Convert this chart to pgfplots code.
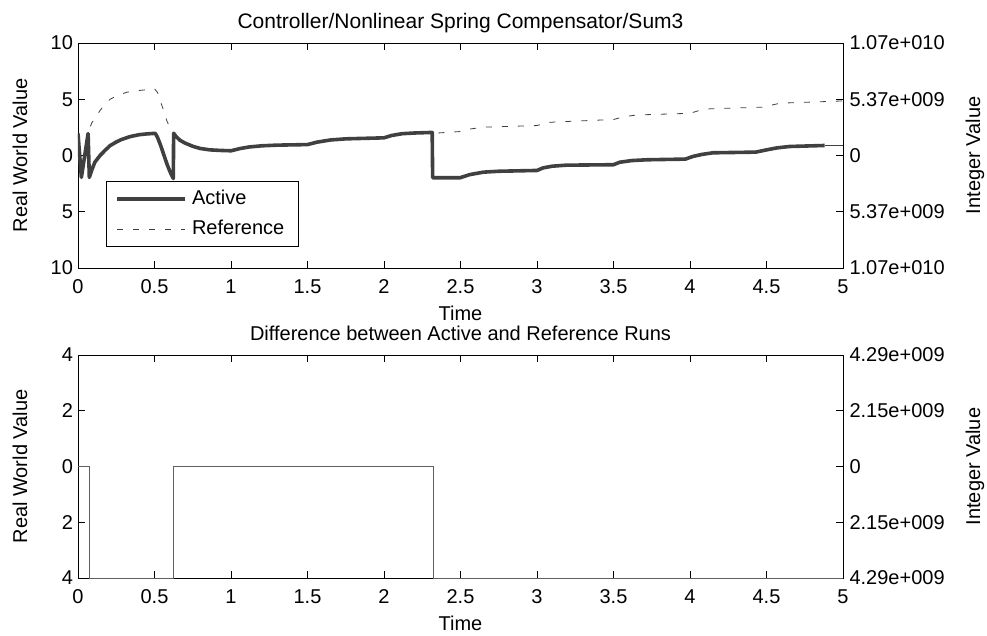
\documentclass[border=0pt]{standalone}
\usepackage{fontspec}
\setmainfont{Liberation Sans}
\usepackage{pgfplots}
\pgfplotsset{compat=1.18}

\definecolor{linegray}{HTML}{404040}
\definecolor{diffgray}{HTML}{606060}

\pgfplotsset{
  panel/.style={
    scale only axis, width=765pt,
    xmin=0, xmax=5,
    tick align=inside, major tick length=7pt,
    xtick pos=both, ytick pos=both,
    xticklabel pos=bottom, yticklabel pos=left,
    axis line style={line width=0.9pt, black},
    every tick/.style={black, line width=0.9pt},
    xtick={0,0.5,1,1.5,2,2.5,3,3.5,4,4.5,5},
    xticklabels={0,0.5,1,1.5,2,2.5,3,3.5,4,4.5,5},
    xticklabel style={anchor=base, yshift=-25.5pt},
    yticklabel style={xshift=-1.5pt},
    ylabel style={at={(axis description cs:-0.0758,0.5)}, anchor=center},
    xlabel style={at={(axis description cs:0.5,0)}, anchor=base, yshift=-52.5pt},
    title style={at={(axis description cs:0.5,1)}, anchor=base, yshift=8pt},
  },
  rightside/.style={
    scale only axis, width=765pt,
    xmin=0, xmax=5,
    axis x line=none, axis y line*=right,
    axis line style={draw=none},
    major tick length=0pt,
    yticklabel style={xshift=3pt},
    ylabel style={at={(axis description cs:1.1725,0.5)}, anchor=center},
  },
}

\begin{document}
\begin{tikzpicture}[font=\fontsize{20}{24}\selectfont]
\path[use as bounding box] (-78pt,-368pt) rectangle (909pt,268pt);

% ---------------- upper panel ----------------
\begin{axis}[panel, at={(0pt,0pt)}, anchor=south west, height=225pt,
  ymin=-10, ymax=10,
  ytick={-10,-5,0,5,10}, yticklabels={10,5,0,5,10},
  ylabel={Real World Value},
  xlabel={Time},
  title={Controller/Nonlinear Spring Compensator/Sum3},
  title style={font=\fontsize{21}{25}\selectfont},
  legend cell align=left,
  legend image code/.code={\draw[#1] (0pt,0pt) -- (68pt,0pt);},
  legend style={at={(axis description cs:0.0366,0.3867)}, anchor=north west,
    draw=black, line width=0.9pt, inner xsep=9pt, inner ysep=5.5pt,
    row sep=6pt,
    nodes={inner xsep=5pt, inner ysep=4pt, text height=14pt, text depth=2pt}},
]
\addplot[linegray, line width=3.6pt, line join=round] coordinates {
 (0,1.95) (0.022,-1.95) (0.066,1.95) (0.074,-1.95)
 (0.09,-1.3) (0.11,-0.6) (0.144,0.0) (0.18,0.5) (0.21,0.88) (0.25,1.2)
 (0.28,1.4) (0.34,1.68) (0.4,1.85) (0.45,1.92) (0.505,1.97)
 (0.52,1.6) (0.54,0.9) (0.56,0.1) (0.58,-0.7) (0.60,-1.4) (0.623,-2.05)
 (0.625,1.98) (0.64,1.7) (0.667,1.35) (0.7,1.1) (0.754,0.8) (0.8,0.62)
 (0.863,0.5) (0.93,0.45) (1.0,0.42) (1.06,0.62) (1.12,0.76) (1.2,0.86)
 (1.3,0.92) (1.5,0.97) (1.56,1.18) (1.65,1.38) (1.75,1.48) (2.0,1.57)
 (2.05,1.78) (2.12,1.94) (2.2,2.0) (2.315,2.05)
 (2.318,-1.98) (2.497,-1.98) (2.56,-1.7) (2.65,-1.48) (2.75,-1.4) (3.0,-1.33)
 (3.04,-1.1) (3.1,-0.95) (3.19,-0.86) (3.5,-0.82) (3.54,-0.6) (3.62,-0.45)
 (3.72,-0.38) (3.97,-0.32) (4.02,-0.08) (4.08,0.1) (4.15,0.24) (4.43,0.3)
 (4.5,0.5) (4.57,0.68) (4.65,0.8) (4.88,0.89)
};
\addlegendentry{Active}
\addplot[linegray, line width=0.8pt, dash pattern=on 6pt off 10pt] coordinates {
 (0,1.95) (0.022,-1.95) (0.066,1.95)
 (0.07,2.2) (0.09,2.9) (0.12,3.5) (0.144,4.0) (0.18,4.6) (0.21,5.0)
 (0.26,5.35) (0.32,5.63) (0.4,5.78) (0.5,5.93) (0.52,5.6) (0.536,4.9)
 (0.56,4.0) (0.58,3.1) (0.60,2.5) (0.623,2.0)
 (0.64,1.7) (0.667,1.35) (0.7,1.1) (0.754,0.8) (0.8,0.62)
 (0.863,0.5) (0.93,0.45) (1.0,0.42) (1.06,0.62) (1.12,0.76) (1.2,0.86)
 (1.3,0.92) (1.5,0.97) (1.56,1.18) (1.65,1.38) (1.75,1.48) (2.0,1.57)
 (2.05,1.78) (2.12,1.94) (2.2,2.0) (2.315,2.05)
 (2.35,2.0) (2.5,2.13) (2.56,2.35) (2.65,2.52) (3.0,2.66) (3.06,2.92)
 (3.12,2.98) (3.5,3.2) (3.57,3.45) (3.65,3.6) (4.0,3.75) (4.06,4.0)
 (4.13,4.15) (4.48,4.3) (4.54,4.5) (4.59,4.65) (5.0,4.85)
};
\addlegendentry{Reference}
\addplot[linegray, line width=0.8pt, forget plot] coordinates {(4.88,0.89) (5,0.89)};
\end{axis}

\begin{axis}[rightside, at={(0pt,0pt)}, anchor=south west, height=225pt,
  ymin=-10, ymax=10,
  ytick={-10,-5,0,5,10},
  yticklabels={1.07e+010,5.37e+009,0,5.37e+009,1.07e+010},
  ylabel={Integer Value},
]
\addplot[draw=none] coordinates {(0,0)};
\end{axis}

% ---------------- lower panel ----------------
\begin{axis}[panel, at={(0pt,-310pt)}, anchor=south west, height=223pt,
  ymin=-4, ymax=4,
  ytick={-4,-2,0,2,4}, yticklabels={4,2,0,2,4},
  ylabel={Real World Value},
  xlabel={Time},
  title={Difference between Active and Reference Runs},
]
\addplot[diffgray, line width=0.9pt] coordinates {
 (0,0) (0.074,0) (0.074,-4) (0.622,-4) (0.622,0) (2.32,0) (2.32,-4) (5,-4)
};
\end{axis}

\begin{axis}[rightside, at={(0pt,-310pt)}, anchor=south west, height=223pt,
  ymin=-4, ymax=4,
  ytick={-4,-2,0,2,4},
  yticklabels={4.29e+009,2.15e+009,0,2.15e+009,4.29e+009},
  ylabel={Integer Value},
]
\addplot[draw=none] coordinates {(0,0)};
\end{axis}
\end{tikzpicture}
\end{document}
